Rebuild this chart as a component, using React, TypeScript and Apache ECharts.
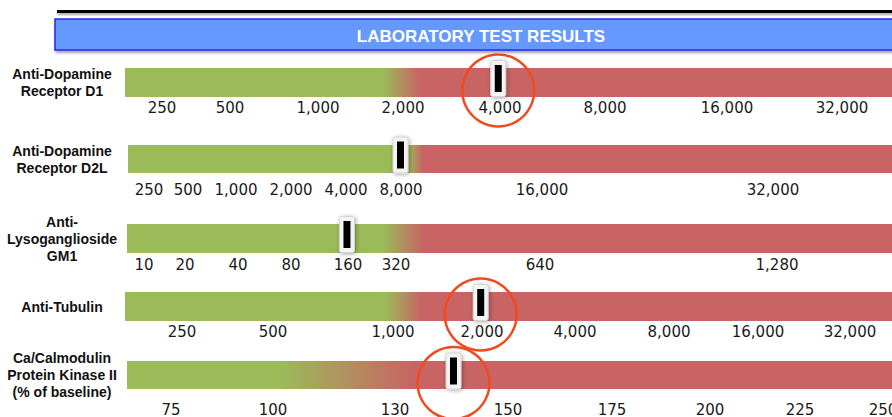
import React, { useEffect, useRef } from "react";
import * as echarts from "echarts";

// ---------- data ----------
const TITLE = "LABORATORY TEST RESULTS";
const TESTS = [
  "Anti-Dopamine\nReceptor D1",
  "Anti-Dopamine\nReceptor D2L",
  "Anti-\nLysoganglioside\nGM1",
  "Anti-Tubulin",
  "Ca/Calmodulin\nProtein Kinase II\n(% of baseline)",
];
const TICKS_D1 = [250, 500, 1000, 2000, 4000, 8000, 16000, 32000];
const TICKS_D2L = [250, 500, 1000, 2000, 4000, 8000, 16000, 32000];
const TICKS_GM1 = [10, 20, 40, 80, 160, 320, 640, 1280];
const TICKS_TUBULIN = [250, 500, 1000, 2000, 4000, 8000, 16000, 32000];
const TICKS_CAMK = [75, 100, 130, 150, 175, 200, 225, 250];
const TICKS = [TICKS_D1, TICKS_D2L, TICKS_GM1, TICKS_TUBULIN, TICKS_CAMK];
const RESULTS = [3950, 7950, 158, 1980, 140];
const NORMAL_END = [1700, 8280, 265, 955, 101.7];
const ABNORMAL_START = [2250, 8900, 365, 1250, 133];
const FLAGGED = [true, false, false, true, true];

// ---------- layout (pixel placement of each track and its tick marks) ----------
const CHART_W = 892;
const CHART_H = 417;
const ROW_LAYOUT = [
  { top: 68, height: 29, left: 125, labelGap: 3, nameDy: 4, tickX: [162, 230, 318, 403, 500, 605, 727, 842] },
  { top: 145, height: 28, left: 128, labelGap: 9, nameDy: 0, tickX: [149, 188, 236, 291, 346, 401, 542, 773] },
  { top: 224, height: 29, left: 127, labelGap: 4, nameDy: 6, tickX: [144, 185, 238, 291, 348, 396, 540, 777] },
  { top: 292, height: 29, left: 125, labelGap: 3, nameDy: 6, tickX: [182, 273, 393, 482, 575, 669, 758, 850] },
  { top: 361, height: 28, left: 127, labelGap: 13, nameDy: 5, tickX: [171, 273, 395, 508, 612, 710, 800, 883] },
];
const GREEN = "#9BBB59";
const RED = "#C86464";

function toTrack(ticks: number[], px: number[], v: number): number {
  const n = ticks.length;
  let i = 0;
  if (v <= ticks[0]) i = 0;
  else if (v >= ticks[n - 1]) i = n - 2;
  else while (v > ticks[i + 1]) i++;
  const a = Math.log(ticks[i]);
  const b = Math.log(ticks[i + 1]);
  const t = (Math.log(v) - a) / (b - a);
  return px[i] + t * (px[i + 1] - px[i]);
}

function fmt(v: number): string {
  return v.toLocaleString("en-US");
}

export default function App() {
  const ref = useRef<HTMLDivElement>(null);
  useEffect(() => {
    if (!ref.current) return;
    const chart = echarts.init(ref.current, undefined, { renderer: "svg" });

    const grid: any[] = [];
    const xAxis: any[] = [];
    const yAxis: any[] = [];
    const series: any[] = [];

    ROW_LAYOUT.forEach((L, i) => {
      const W = CHART_W - L.left;
      const ticks = TICKS[i];
      const offs = L.tickX.map((x) => x - L.left);
      const gEnd = toTrack(ticks, L.tickX, NORMAL_END[i]) - L.left;
      const rStart = toTrack(ticks, L.tickX, ABNORMAL_START[i]) - L.left;
      const res = toTrack(ticks, L.tickX, RESULTS[i]) - L.left;

      grid.push({ left: L.left, top: L.top, width: W, height: L.height, outerBoundsMode: "none", containLabel: false });
      xAxis.push({
        type: "value",
        gridIndex: i,
        min: 0,
        max: W,
        axisLine: { show: false },
        axisTick: { show: false },
        splitLine: { show: false },
        axisLabel: {
          customValues: offs,
          margin: L.labelGap,
          fontFamily: "DejaVu Sans",
          fontSize: 15,
          color: "#1a1a1a",
          hideOverlap: false,
          formatter: (v: number) => {
            const k = offs.findIndex((o) => Math.abs(o - v) < 0.01);
            return k >= 0 ? fmt(ticks[k]) : "";
          },
        },
      });
      yAxis.push({
        type: "category",
        gridIndex: i,
        data: [TESTS[i]],
        axisLine: { show: false },
        axisTick: { show: false },
        splitLine: { show: false },
        axisLabel: {
          align: "center",
          margin: L.left - 62,
          fontFamily: "Liberation Sans",
          fontWeight: "bold",
          fontSize: 14,
          lineHeight: 17,
          color: "#111",
          padding: [L.nameDy * 2, 0, 0, 0],
        },
      });
      series.push({
        type: "bar",
        xAxisIndex: i,
        yAxisIndex: i,
        barWidth: "100%",
        silent: true,
        data: [W],
        itemStyle: {
          color: new echarts.graphic.LinearGradient(0, 0, 1, 0, [
            { offset: 0, color: GREEN },
            { offset: Math.max(0, gEnd / W), color: GREEN },
            { offset: Math.min(1, rStart / W), color: RED },
            { offset: 1, color: RED },
          ]),
        },
      });
      series.push({
        type: "custom",
        xAxisIndex: i,
        yAxisIndex: i,
        clip: false,
        z: 5,
        data: [[res, 0]],
        renderItem: (params: any, api: any) => {
          const p = api.coord([api.value(0), 0]);
          const cx = p[0];
          const cy = p[1];
          const children: any[] = [
            {
              type: "rect",
              shape: { x: cx - 7.5, y: cy - 22, width: 15, height: 36, r: 2 },
              style: {
                fill: "#f4f4f4",
                stroke: "#d4d4d4",
                lineWidth: 1,
                shadowBlur: 4,
                shadowOffsetX: 1,
                shadowOffsetY: 1,
                shadowColor: "rgba(0,0,0,0.35)",
              },
            },
            {
              type: "rect",
              shape: { x: cx - 3.5, y: cy - 17.5, width: 7, height: 27 },
              style: { fill: "#000" },
            },
          ];
          if (FLAGGED[i]) {
            children.push({
              type: "circle",
              shape: { cx: cx, cy: cy + 8, r: 36 },
              style: { fill: "none", stroke: "#F04A1E", lineWidth: 2.5 },
            });
          }
          return { type: "group", children };
        },
      });
    });

    chart.setOption({
      animation: false,
      backgroundColor: "#fff",
      grid,
      xAxis,
      yAxis,
      series,
      graphic: [
        {
          type: "rect",
          shape: { x: 57, y: 10, width: 840, height: 3 },
          style: { fill: "#000", shadowBlur: 2, shadowOffsetY: 2, shadowColor: "rgba(0,0,0,0.35)" },
        },
        {
          type: "rect",
          shape: { x: 55, y: 19, width: 845, height: 31 },
          style: {
            fill: "#6699FF",
            stroke: "#1f2cf0",
            lineWidth: 1.5,
            shadowBlur: 3,
            shadowOffsetX: 1,
            shadowOffsetY: 2,
            shadowColor: "rgba(0,0,0,0.4)",
          },
        },
        {
          type: "text",
          x: 481,
          y: 36,
          style: {
            text: TITLE,
            fill: "#fff",
            font: 'bold 17px "Liberation Sans"',
            textAlign: "center",
            textVerticalAlign: "middle",
          },
        },
      ],
    });
    return () => chart.dispose();
  }, []);

  return (
    <div
      ref={ref}
      style={{ position: "fixed", left: 0, top: 0, width: CHART_W, height: CHART_H }}
    />
  );
}
